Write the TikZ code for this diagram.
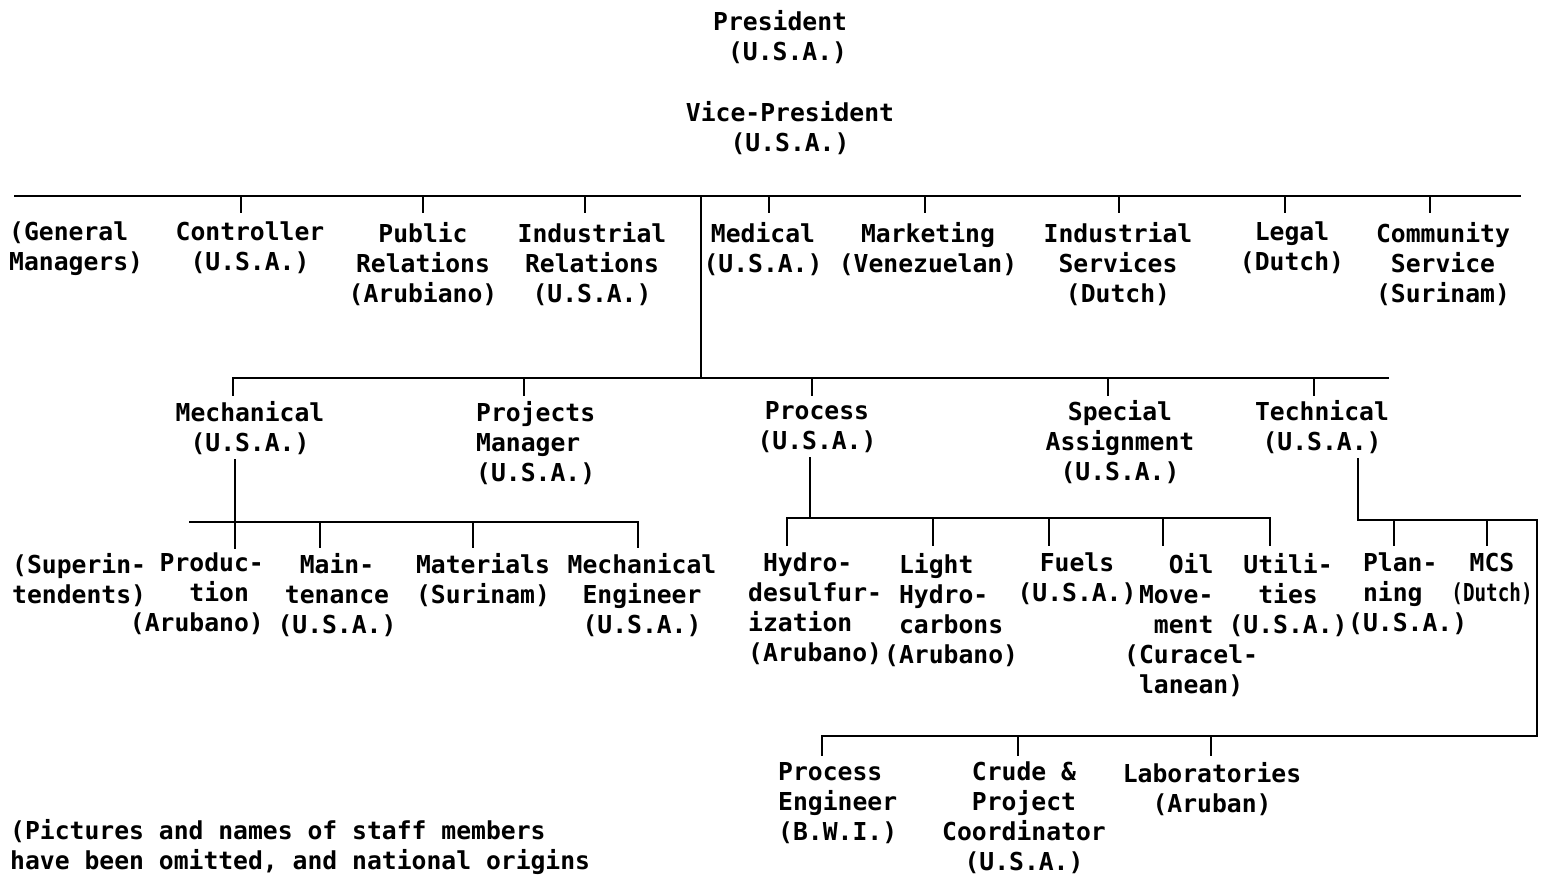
\documentclass[tikz,border=0pt]{standalone}
\usepackage{fontspec}
\setmainfont{DejaVu Sans Mono}
\newcommand\onech{\hspace*{0.602em}}
\begin{document}
\begin{tikzpicture}[x=1pt,y=-1pt,
  lbl/.style={font=\fontsize{24.7}{30}\selectfont\bfseries, inner sep=0pt, anchor=north, align=center},
  lblL/.style={lbl, anchor=north west, align=left},
  lblR/.style={lbl, anchor=north east, align=right},
  wire/.style={line width=1.8pt, line cap=rect}]
\useasboundingbox (0,0) rectangle (1541,875);

% ---------- executives ----------
\node[lblL] (pres) at (713,10) {President\\\onech(U.S.A.)};
\node[lbl]  (vp)   at (790,101) {Vice-President\\(U.S.A.)};

% ---------- staff departments ----------
\node[lblL] (gm)    at (9,222)    {(General\\Managers)};
\node[lbl]  (ctrl)  at (250,222)  {Controller\\(U.S.A.)};
\node[lbl]  (pr)    at (423,222)  {Public\\Relations\\(Arubiano)};
\node[lbl]  (ir)    at (592,222)  {Industrial\\Relations\\(U.S.A.)};
\node[lbl]  (med)   at (763,222)  {Medical\\(U.S.A.)};
\node[lbl]  (mkt)   at (928,222)  {Marketing\\(Venezuelan)};
\node[lbl]  (is)    at (1118,222) {Industrial\\Services\\(Dutch)};
\node[lbl]  (legal) at (1292,222) {Legal\\(Dutch)};
\node[lbl]  (cs)    at (1443,222) {Community\\Service\\(Surinam)};

% ---------- refinery divisions ----------
\node[lbl]  (mech) at (250,401)  {Mechanical\\(U.S.A.)};
\node[lblL] (proj) at (476,401)  {Projects\\Manager\\(U.S.A.)};
\node[lbl]  (proc) at (817,401)  {Process\\(U.S.A.)};
\node[lbl]  (spec) at (1120,400) {Special\\Assignment\\(U.S.A.)};
\node[lbl]  (tech) at (1322,400) {Technical\\(U.S.A.)};

% ---------- sections ----------
\node[lblL] (sup)   at (12,553)   {(Superin-\\tendents)};
\node[lblR] (prod)  at (264,553)  {Produc-\\tion\onech\onech\\(Arubano)};
\node[lbl]  (maint) at (337,553)  {Main-\\tenance\\(U.S.A.)};
\node[lbl]  (mat)   at (483,553)  {Materials\\(Surinam)};
\node[lbl]  (meng)  at (642,553)  {Mechanical\\Engineer\\(U.S.A.)};
\node[lblL] (hds)   at (748,553)  {\onech Hydro-\\desulfur-\\ization\\(Arubano)};
\node[lblL] (lh)    at (884,553)  {\onech Light\\\onech Hydro-\\\onech carbons\\(Arubano)};
\node[lbl]  (fuels) at (1077,553) {Fuels\\(U.S.A.)};
\node[lblL] (oil)   at (1124,553) {\onech\onech\onech Oil\\\onech Move-\\\onech\onech ment\\(Curacel-\\\onech lanean)};
\node[lbl]  (util)  at (1288,553) {Utili-\\ties\\(U.S.A.)};
\node[lblL] (plan)  at (1348,553) {\onech Plan-\\\onech ning\\(U.S.A.)};
\node[lbl]  (mcs)   at (1492,553) {MCS\\\scalebox{0.78}[1]{(Dutch)}};

\node[lblL] (pe)    at (778,762)  {Process\\Engineer\\(B.W.I.)};
\node[lbl]  (crude) at (1024,762) {Crude \&\\Project\\Coordinator\\(U.S.A.)};
\node[lbl]  (lab)   at (1212,762) {Laboratories\\(Aruban)};

\node[lblL] (note)  at (10,819) {(Pictures and names of staff members\\have been omitted, and national origins};

% ---------- bus levels ----------
\coordinate (busA) at (0,196);
\coordinate (busB) at (0,378);
\coordinate (busC) at (0,522);
\coordinate (busD) at (0,518);
\coordinate (busE) at (0,520);
\coordinate (busF) at (0,736);
\coordinate (busAL) at (15,196);
\coordinate (busAR) at (1520,196);
\coordinate (trunk) at (701,196);
\coordinate (busBL) at (233,378);
\coordinate (busBR) at (1388,378);
\coordinate (busCL) at (190,522);
\coordinate (loopR) at (1537,520);

% staff level
\draw[wire] (busAL) -- (busAR);
\foreach \n/\dx in {ctrl/-9, pr/0, ir/-7, med/6, mkt/-3, is/1, legal/-7, cs/-13}
  \draw[wire] ([xshift=\dx pt]\n.north |- busA) -- ++(0,16);

% trunk down to the divisions
\draw[wire] (trunk) -- (trunk |- busB);
\draw[wire] (busBR) -- (busBL) -- ++(0,17);
\foreach \n/\dx in {proj/-11.5, proc/-5, spec/-12, tech/-8}
  \draw[wire] ([xshift=\dx pt]\n.north |- busB) -- ++(0,17);

% mechanical sections
\draw[wire] ([xshift=-15pt,yshift=-5pt]mech.south) -- ([xshift=-15pt]mech.south |- busC) -- ++(0,26);
\draw[wire] (busCL) -- ([xshift=-4pt]meng.north |- busC) -- ++(0,25);
\foreach \n/\dx in {maint/-17, mat/-10}
  \draw[wire] ([xshift=\dx pt]\n.north |- busC) -- ++(0,25);

% process sections
\draw[wire] ([xshift=-7pt,yshift=-5pt]proc.south) -- ([xshift=-7pt]proc.south |- busD);
\draw[wire] ([xshift=-28pt]hds.north |- busD) ++(0,27) -- ++(0,-27)
  -- ([xshift=-18pt]util.north |- busD) -- ++(0,27);
\foreach \n/\dx in {lh/-18, fuels/-28, oil/-28}
  \draw[wire] ([xshift=\dx pt]\n.north |- busD) -- ++(0,27);

% technical sections
\draw[wire] ([xshift=36pt,yshift=-5pt]tech.south) -- ([xshift=36pt]tech.south |- busE)
  -- (loopR) -- (loopR |- busF) -- ([xshift=-15.4pt]pe.north |- busF) -- ++(0,19);
\foreach \n/\dx in {plan/-14, mcs/-5}
  \draw[wire] ([xshift=\dx pt]\n.north |- busE) -- ++(0,25);
\foreach \n/\dx in {crude/-6, lab/-1}
  \draw[wire] ([xshift=\dx pt]\n.north |- busF) -- ++(0,19);
\end{tikzpicture}
\end{document}
